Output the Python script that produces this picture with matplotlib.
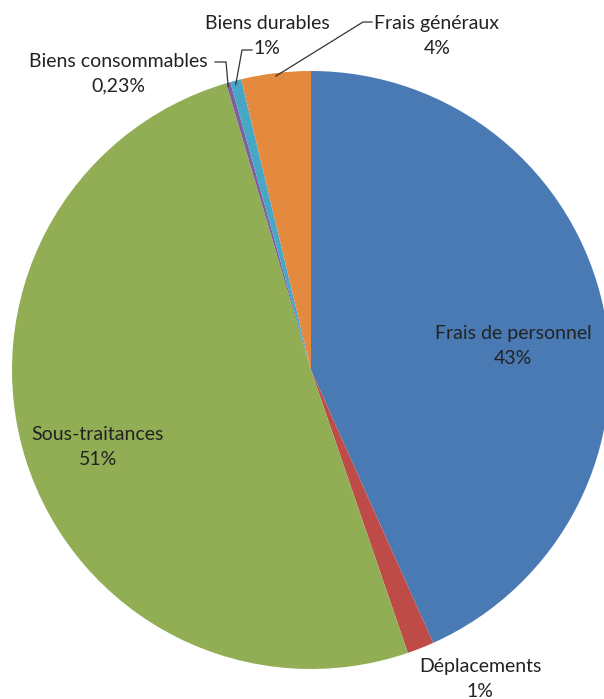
import numpy as np
import matplotlib
matplotlib.use('Agg')
import matplotlib.pyplot as plt

# data
categories = ['Frais de personnel', 'Déplacements', 'Sous-traitances',
              'Biens consommables', 'Biens durables', 'Frais généraux']
values = [43.3, 1.45, 50.67, 0.23, 0.6, 3.75]
pct_labels = ['43%', '1%', '51%', '0,23%', '1%', '4%']
colors = ['#4A7AB4', '#BE4B48', '#92AE55', '#7D5FA0', '#47A7C4', '#E38A3F']

plt.rcParams['font.family'] = ['Lato', 'DejaVu Sans']

W, H = 604, 699
fig = plt.figure(figsize=(W / 100, H / 100), dpi=100)
ax = fig.add_axes([0, 0, 1, 1])

cx, cy, r = 311, H - 370, 299
wedges, _ = ax.pie(values, colors=colors, startangle=90, counterclock=False,
                   center=(cx, cy), radius=r, frame=True,
                   wedgeprops=dict(linewidth=0))
ax.set_xlim(0, W)
ax.set_ylim(0, H)
ax.set_aspect('equal')
ax.axis('off')

txt_kw = dict(fontsize=14, color='#222222', ha='center', va='center', linespacing=1.55)

# label positions (pixel coords from top-left)
label_pos = [(513, 346), (480, 679), (98, 447), (118, 74), (267, 36), (437, 36)]
for i, (lx, ly) in enumerate(label_pos):
    ax.text(lx, H - ly, categories[i] + '\n' + pct_labels[i], **txt_kw)

def edge_point(w, frac=0.5):
    a = np.deg2rad(w.theta1 + (w.theta2 - w.theta1) * frac)
    return cx + r * np.cos(a), cy + r * np.sin(a)

# leader lines for the small slices at the top
lc = '#333333'
ex, ey = edge_point(wedges[3])
ax.plot([215, 226, ex], [H - 62, H - 62, ey - 4], color=lc, lw=0.9)
ex, ey = edge_point(wedges[4])
ax.plot([252, 242, ex], [H - 50, H - 50, ey - 4], color=lc, lw=0.9)
ex, ey = edge_point(wedges[5])
ax.plot([372, 363, ex], [H - 22, H - 22, ey - 3], color=lc, lw=0.9)

fig.savefig('out.png', dpi=100, facecolor='white')
